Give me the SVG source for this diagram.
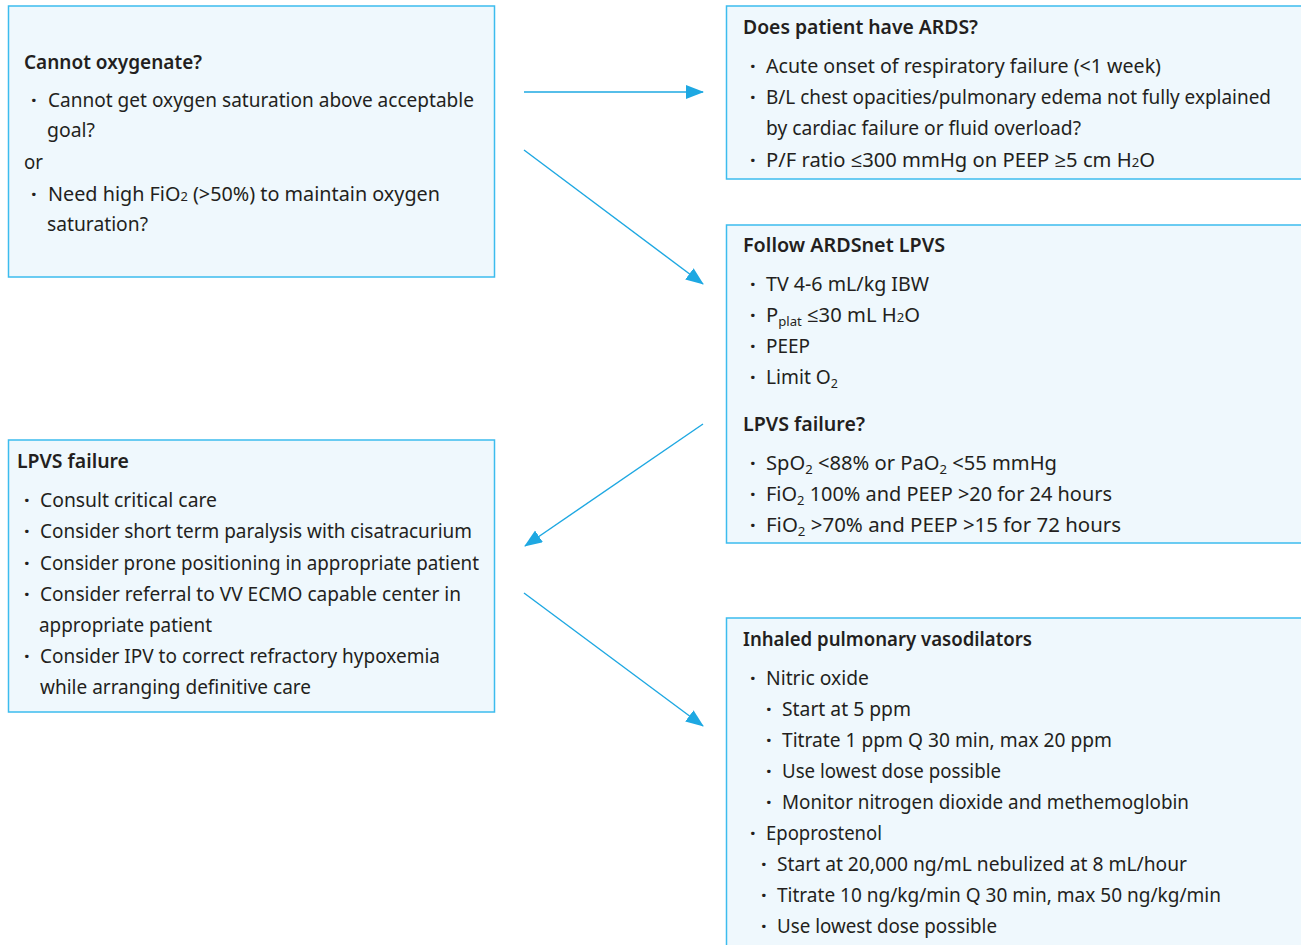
<svg xmlns="http://www.w3.org/2000/svg" width="1301" height="945" viewBox="0 0 1301 945">
<style>
.box{fill:#eff8fd;stroke:#3cbcee;stroke-width:1.5}
text{font-family:"Noto Sans","Open Sans","DejaVu Sans",sans-serif;font-size:20px;fill:#231f20}
.t{font-weight:600}
.s{font-size:13px}
.d{font-weight:700}
.c{stroke:#1ea8e2;stroke-width:1.4;fill:none}
</style>
<defs>
<marker id="ah" markerUnits="userSpaceOnUse" markerWidth="20" markerHeight="16" refX="17" refY="7" orient="auto">
<path d="M0,0 L18,7 L0,14 z" fill="#1ea8e2"/>
</marker>
</defs>
<rect width="1301" height="945" fill="#ffffff"/>

<g id="connectors">
<line class="c" x1="524" y1="92" x2="703" y2="92" marker-end="url(#ah)"/>
<line class="c" x1="524" y1="150" x2="703" y2="284" marker-end="url(#ah)"/>
<line class="c" x1="703" y1="424" x2="525" y2="546" marker-end="url(#ah)"/>
<line class="c" x1="524" y1="593" x2="703" y2="726" marker-end="url(#ah)"/>
</g>

<g id="oxygenate">
<rect class="box" x="8.5" y="6" width="486" height="271"/>
<text class="t" x="24" y="69" textLength="178" lengthAdjust="spacingAndGlyphs">Cannot oxygenate?</text>
<text class="d" x="31" y="107">·</text>
<text x="48" y="107" textLength="426" lengthAdjust="spacingAndGlyphs">Cannot get oxygen saturation above acceptable</text>
<text x="47" y="137" textLength="48" lengthAdjust="spacingAndGlyphs">goal?</text>
<text x="24" y="169" textLength="19" lengthAdjust="spacingAndGlyphs">or</text>
<text class="d" x="31" y="201">·</text>
<text x="48" y="201" textLength="392" lengthAdjust="spacingAndGlyphs">Need high FiO<tspan class="s">2</tspan> (&gt;50%) to maintain oxygen</text>
<text x="47" y="231" textLength="101" lengthAdjust="spacingAndGlyphs">saturation?</text>
</g>

<g id="ards">
<rect class="box" x="726.5" y="6" width="580" height="173"/>
<text class="t" x="743" y="34" textLength="235" lengthAdjust="spacingAndGlyphs">Does patient have ARDS?</text>
<text class="d" x="750" y="73">·</text>
<text x="766" y="73" textLength="395" lengthAdjust="spacingAndGlyphs">Acute onset of respiratory failure (&lt;1 week)</text>
<text class="d" x="750" y="104">·</text>
<text x="766" y="104" textLength="505" lengthAdjust="spacingAndGlyphs">B/L chest opacities/pulmonary edema not fully explained</text>
<text x="766" y="135" textLength="315" lengthAdjust="spacingAndGlyphs">by cardiac failure or fluid overload?</text>
<text class="d" x="750" y="167">·</text>
<text x="766" y="167" textLength="389" lengthAdjust="spacingAndGlyphs">P/F ratio  ≤300 mmHg on PEEP ≥5 cm H<tspan class="s">2</tspan>O</text>
</g>

<g id="lpvs">
<rect class="box" x="726.5" y="225" width="580" height="318"/>
<text class="t" x="743" y="252" textLength="202" lengthAdjust="spacingAndGlyphs">Follow ARDSnet LPVS</text>
<text class="d" x="750" y="291">·</text>
<text x="766" y="291" textLength="163" lengthAdjust="spacingAndGlyphs">TV 4-6 mL/kg IBW</text>
<text class="d" x="750" y="322">·</text>
<text x="766" y="322" textLength="154" lengthAdjust="spacingAndGlyphs">P<tspan class="s" dy="4">plat</tspan><tspan dy="-4">  ≤30 mL H</tspan><tspan class="s">2</tspan>O</text>
<text class="d" x="750" y="353">·</text>
<text x="766" y="353" textLength="44" lengthAdjust="spacingAndGlyphs">PEEP</text>
<text class="d" x="750" y="384">·</text>
<text x="766" y="384" textLength="72" lengthAdjust="spacingAndGlyphs">Limit O<tspan class="s" dy="4">2</tspan></text>
<text class="t" x="743" y="431" textLength="122" lengthAdjust="spacingAndGlyphs">LPVS failure?</text>
<text class="d" x="750" y="470">·</text>
<text x="766" y="470" textLength="291" lengthAdjust="spacingAndGlyphs">SpO<tspan class="s" dy="4">2</tspan><tspan dy="-4"> &lt;88% or PaO</tspan><tspan class="s" dy="4">2</tspan><tspan dy="-4"> &lt;55 mmHg</tspan></text>
<text class="d" x="750" y="501">·</text>
<text x="766" y="501" textLength="346" lengthAdjust="spacingAndGlyphs">FiO<tspan class="s" dy="4">2</tspan><tspan dy="-4"> 100% and PEEP &gt;20 for 24 hours</tspan></text>
<text class="d" x="750" y="532">·</text>
<text x="766" y="532" textLength="355" lengthAdjust="spacingAndGlyphs">FiO<tspan class="s" dy="4">2</tspan><tspan dy="-4"> &gt;70% and PEEP &gt;15 for 72 hours</tspan></text>
</g>

<g id="lpvs-failure">
<rect class="box" x="8.5" y="440" width="486" height="272"/>
<text class="t" x="17" y="468" textLength="112" lengthAdjust="spacingAndGlyphs">LPVS failure</text>
<text class="d" x="24" y="507">·</text>
<text x="40" y="507" textLength="177" lengthAdjust="spacingAndGlyphs">Consult critical care</text>
<text class="d" x="24" y="538">·</text>
<text x="40" y="538" textLength="432" lengthAdjust="spacingAndGlyphs">Consider short term paralysis with cisatracurium</text>
<text class="d" x="24" y="570">·</text>
<text x="40" y="570" textLength="439" lengthAdjust="spacingAndGlyphs">Consider prone positioning in appropriate patient</text>
<text class="d" x="24" y="601">·</text>
<text x="40" y="601" textLength="421" lengthAdjust="spacingAndGlyphs">Consider referral to VV ECMO capable center in</text>
<text x="39" y="632" textLength="173" lengthAdjust="spacingAndGlyphs">appropriate patient</text>
<text class="d" x="24" y="663">·</text>
<text x="40" y="663" textLength="400" lengthAdjust="spacingAndGlyphs">Consider IPV to correct refractory hypoxemia</text>
<text x="40" y="694" textLength="271" lengthAdjust="spacingAndGlyphs">while arranging definitive care</text>
</g>

<g id="vasodilators">
<rect class="box" x="726.5" y="618" width="580" height="345"/>
<text class="t" x="743" y="646" textLength="289" lengthAdjust="spacingAndGlyphs">Inhaled pulmonary vasodilators</text>
<text class="d" x="750" y="685">·</text>
<text x="766" y="685" textLength="103" lengthAdjust="spacingAndGlyphs">Nitric oxide</text>
<text class="d" x="766" y="716">·</text>
<text x="782" y="716" textLength="129" lengthAdjust="spacingAndGlyphs">Start at 5 ppm</text>
<text class="d" x="766" y="747">·</text>
<text x="782" y="747" textLength="330" lengthAdjust="spacingAndGlyphs">Titrate 1 ppm Q 30 min, max 20 ppm</text>
<text class="d" x="766" y="778">·</text>
<text x="782" y="778" textLength="219" lengthAdjust="spacingAndGlyphs">Use lowest dose possible</text>
<text class="d" x="766" y="809">·</text>
<text x="782" y="809" textLength="407" lengthAdjust="spacingAndGlyphs">Monitor nitrogen dioxide and methemoglobin</text>
<text class="d" x="750" y="840">·</text>
<text x="766" y="840" textLength="116" lengthAdjust="spacingAndGlyphs">Epoprostenol</text>
<text class="d" x="761" y="871">·</text>
<text x="777" y="871" textLength="410" lengthAdjust="spacingAndGlyphs">Start at 20,000 ng/mL nebulized at 8 mL/hour</text>
<text class="d" x="761" y="902">·</text>
<text x="777" y="902" textLength="444" lengthAdjust="spacingAndGlyphs">Titrate 10 ng/kg/min Q 30 min, max 50 ng/kg/min</text>
<text class="d" x="761" y="933">·</text>
<text x="777" y="933" textLength="220" lengthAdjust="spacingAndGlyphs">Use lowest dose possible</text>
</g>
</svg>
